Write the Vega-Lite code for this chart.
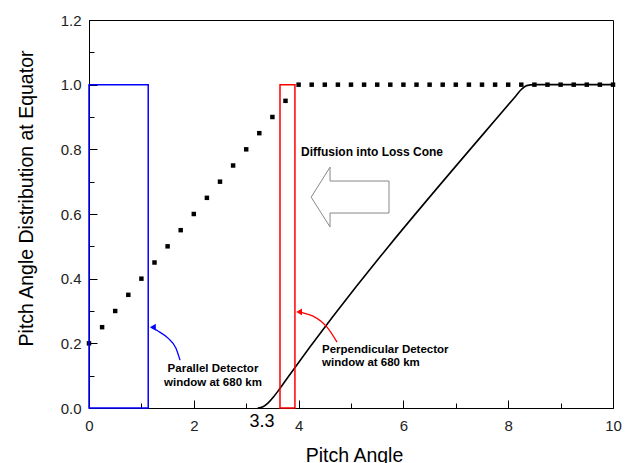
{
  "$schema": "https://vega.github.io/schema/vega-lite/v6.json",
  "width": 524,
  "height": 388,
  "autosize": "none",
  "padding": {"left": 89, "top": 20, "right": 20, "bottom": 55},
  "background": "white",
  "config": {"view": {"stroke": "black", "strokeWidth": 1}, "font": "Liberation Sans"},
  "datasets": {
    "dots": [
      {"x": 0, "y": 0.2}, {"x": 0.25, "y": 0.25}, {"x": 0.5, "y": 0.3}, {"x": 0.75, "y": 0.35},
      {"x": 1.0, "y": 0.4}, {"x": 1.25, "y": 0.45}, {"x": 1.5, "y": 0.5}, {"x": 1.75, "y": 0.55},
      {"x": 2.0, "y": 0.6}, {"x": 2.25, "y": 0.65}, {"x": 2.5, "y": 0.7}, {"x": 2.75, "y": 0.75},
      {"x": 3.0, "y": 0.8}, {"x": 3.25, "y": 0.85}, {"x": 3.5, "y": 0.9}, {"x": 3.75, "y": 0.95},
      {"x": 4.0, "y": 1}, {"x": 4.25, "y": 1}, {"x": 4.5, "y": 1}, {"x": 4.75, "y": 1},
      {"x": 5.0, "y": 1}, {"x": 5.25, "y": 1}, {"x": 5.5, "y": 1}, {"x": 5.75, "y": 1},
      {"x": 6.0, "y": 1}, {"x": 6.25, "y": 1}, {"x": 6.5, "y": 1}, {"x": 6.75, "y": 1},
      {"x": 7.0, "y": 1}, {"x": 7.25, "y": 1}, {"x": 7.5, "y": 1}, {"x": 7.75, "y": 1},
      {"x": 8.0, "y": 1}, {"x": 8.25, "y": 1}, {"x": 8.5, "y": 1}, {"x": 8.75, "y": 1},
      {"x": 9.0, "y": 1}, {"x": 9.25, "y": 1}, {"x": 9.5, "y": 1}, {"x": 9.75, "y": 1},
      {"x": 10.0, "y": 1}
    ],
    "curve": [
      {"x": 3.22, "y": 0}, {"x": 3.32, "y": 0.004}, {"x": 3.42, "y": 0.016}, {"x": 3.52, "y": 0.034},
      {"x": 3.62, "y": 0.055}, {"x": 3.8, "y": 0.096}, {"x": 8.15, "y": 0.966}, {"x": 8.25, "y": 0.985},
      {"x": 8.35, "y": 0.997}, {"x": 8.5, "y": 1.0}, {"x": 10, "y": 1.0}
    ],
    "windows": [
      {"name": "Parallel", "x1": 0, "x2": 1.13, "y1": 0, "y2": 1.0},
      {"name": "Perpendicular", "x1": 3.645, "x2": 3.93, "y1": 0, "y2": 1.0}
    ],
    "bigarrow": [
      {"i": 0, "x": 4.24, "y": 0.652}, {"i": 1, "x": 4.6, "y": 0.745}, {"i": 2, "x": 4.6, "y": 0.702},
      {"i": 3, "x": 5.725, "y": 0.702}, {"i": 4, "x": 5.725, "y": 0.603}, {"i": 5, "x": 4.6, "y": 0.603},
      {"i": 6, "x": 4.6, "y": 0.56}, {"i": 7, "x": 4.24, "y": 0.652}
    ],
    "blueCurve": [
      {"i": 0, "x": 1.737, "y": 0.148}, {"i": 1, "x": 1.66, "y": 0.185}, {"i": 2, "x": 1.508, "y": 0.216},
      {"i": 3, "x": 1.317, "y": 0.238}, {"i": 4, "x": 1.18, "y": 0.25}
    ],
    "redCurve": [
      {"i": 0, "x": 4.733, "y": 0.204}, {"i": 1, "x": 4.542, "y": 0.25}, {"i": 2, "x": 4.275, "y": 0.284},
      {"i": 3, "x": 4.084, "y": 0.294}, {"i": 4, "x": 3.99, "y": 0.297}
    ],
    "blueHead": [{"x": 1.22, "y": 0.25}],
    "redHead": [{"x": 4.01, "y": 0.297}],
    "title1": [{"x": 4.046, "y": 0.791, "t": "Diffusion into Loss Cone"}],
    "parLabel": [
      {"x": 2.366, "y": 0.1206, "t": "Parallel Detector"},
      {"x": 2.366, "y": 0.0773, "t": "window at 680 km"}
    ],
    "perpLabel": [
      {"x": 4.447, "y": 0.179, "t": "Perpendicular Detector"},
      {"x": 4.447, "y": 0.139, "t": "window at 680 km"}
    ],
    "mark33": [{"x": 3.3, "y": -0.0433, "t": "3.3"}]
  },
  "encoding": {
    "x": {
      "field": "x", "type": "quantitative",
      "scale": {"domain": [0, 10], "nice": false, "zero": false},
      "axis": {
        "title": "Pitch Angle",
        "values": [0, 1, 2, 3, 4, 5, 6, 7, 8, 9, 10],
        "labelExpr": "datum.value % 2 === 0 ? datum.label : ''",
        "tickSize": {"condition": {"test": "datum.value % 2 === 0", "value": -8}, "value": -5},
        "labelPadding": 18,
        "grid": false,
        "domainColor": "black",
        "tickColor": "black",
        "labelFontSize": 15,
        "labelColor": "#222",
        "labelFlush": false,
        "titleFontSize": 19.5,
        "titleFontWeight": "normal",
        "titleColor": "black",
        "titlePadding": 13,
        "titleX": 265
      }
    },
    "y": {
      "field": "y", "type": "quantitative",
      "scale": {"domain": [0, 1.2], "nice": false, "zero": false},
      "axis": {
        "title": "Pitch Angle Distribution at Equator",
        "values": [0, 0.1, 0.2, 0.3, 0.4, 0.5, 0.6, 0.7, 0.8, 0.9, 1.0, 1.1, 1.2],
        "labelExpr": "round(datum.value * 10) % 2 === 0 ? format(datum.value, '.1f') : ''",
        "tickSize": {"condition": {"test": "round(datum.value * 10) % 2 === 0", "value": -8}, "value": -5},
        "labelPadding": 16,
        "grid": false,
        "domainColor": "black",
        "tickColor": "black",
        "labelFontSize": 15,
        "labelColor": "#222",
        "labelFlush": false,
        "titleFontSize": 19.5,
        "titleFontWeight": "normal",
        "titleColor": "black",
        "titlePadding": 24,
        "titleY": 178
      }
    }
  },
  "layer": [
    {
      "data": {"name": "dots"},
      "mark": {"type": "square", "color": "black", "size": 20, "opacity": 1, "filled": true}
    },
    {
      "data": {"name": "curve"},
      "mark": {"type": "line", "color": "black", "strokeWidth": 1.6, "interpolate": "monotone"}
    },
    {
      "data": {"name": "windows"},
      "mark": {"type": "rect", "fill": null, "fillOpacity": 0, "strokeWidth": 1.5},
      "encoding": {
        "x": {"field": "x1", "type": "quantitative"},
        "x2": {"field": "x2"},
        "y": {"field": "y1", "type": "quantitative"},
        "y2": {"field": "y2"},
        "stroke": {"field": "name", "type": "nominal", "scale": {"domain": ["Parallel", "Perpendicular"], "range": ["#0000ff", "#ff0000"]}, "legend": null}
      }
    },
    {
      "data": {"name": "bigarrow"},
      "mark": {"type": "line", "color": "#888888", "strokeWidth": 1},
      "encoding": {"order": {"field": "i", "type": "quantitative"}}
    },
    {
      "data": {"name": "blueCurve"},
      "mark": {"type": "line", "color": "#0000ff", "strokeWidth": 1.3, "interpolate": "monotone"},
      "encoding": {"order": {"field": "i", "type": "quantitative"}}
    },
    {
      "data": {"name": "redCurve"},
      "mark": {"type": "line", "color": "#ff0000", "strokeWidth": 1.3, "interpolate": "monotone"},
      "encoding": {"order": {"field": "i", "type": "quantitative"}}
    },
    {
      "data": {"name": "blueHead"},
      "mark": {"type": "point", "shape": "triangle-left", "filled": true, "color": "#0000ff", "size": 45, "opacity": 1}
    },
    {
      "data": {"name": "redHead"},
      "mark": {"type": "point", "shape": "triangle-left", "filled": true, "color": "#ff0000", "size": 45, "opacity": 1}
    },
    {
      "data": {"name": "title1"},
      "mark": {"type": "text", "align": "left", "baseline": "middle", "fontSize": 12, "fontWeight": "bold", "color": "black"},
      "encoding": {"text": {"field": "t"}}
    },
    {
      "data": {"name": "parLabel"},
      "mark": {"type": "text", "align": "center", "baseline": "middle", "fontSize": 11.5, "fontWeight": "bold", "color": "black"},
      "encoding": {"text": {"field": "t"}}
    },
    {
      "data": {"name": "perpLabel"},
      "mark": {"type": "text", "align": "left", "baseline": "middle", "fontSize": 11.5, "fontWeight": "bold", "color": "black"},
      "encoding": {"text": {"field": "t"}}
    },
    {
      "data": {"name": "mark33"},
      "mark": {"type": "text", "align": "center", "baseline": "middle", "fontSize": 18, "color": "black"},
      "encoding": {"text": {"field": "t"}}
    }
  ]
}
